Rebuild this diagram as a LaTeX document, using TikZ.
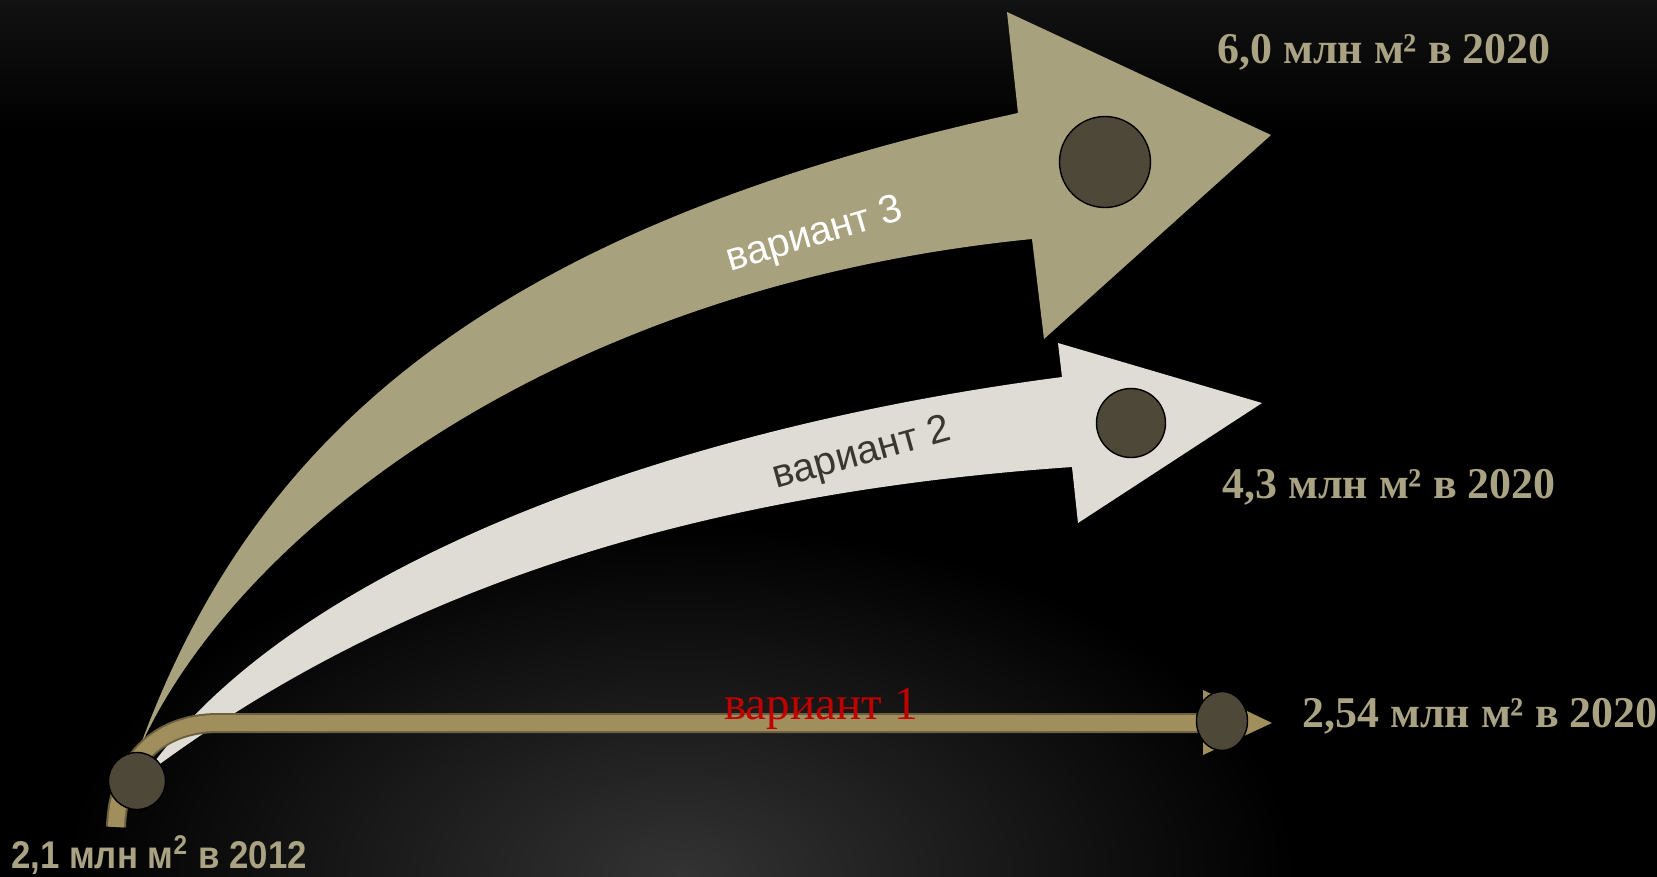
\documentclass[tikz,border=0pt]{standalone}
\usepackage{fontspec}
\setmainfont{Liberation Serif}
\setsansfont{Liberation Sans}
\usetikzlibrary{shapes.geometric}

\definecolor{khaki}{HTML}{A8A17E}
\definecolor{pale}{HTML}{DFDCD5}
\definecolor{dotfill}{HTML}{4E4838}
\definecolor{rope}{HTML}{A08F5C}
\definecolor{ropeedge}{HTML}{6B6040}
\definecolor{labeltxt}{HTML}{A9A283}
\definecolor{darktxt}{HTML}{3A3631}
\definecolor{redtxt}{HTML}{C00000}

\pgfdeclareradialshading{floorglow}{\pgfpoint{0bp}{0bp}}{%
  color(0bp)=(black!80!white); color(11bp)=(black); color(50bp)=(black)}

\tikzset{
  stopdot/.style={circle,draw=black,line width=0.4pt,fill=dotfill,inner sep=0pt},
  result/.style={text=labeltxt,anchor=base,inner sep=0pt,
    font=\fontsize{12.5}{15}\selectfont\bfseries},
  variant/.style={rotate=#1,inner sep=0pt,font=\sffamily\fontsize{11.3}{13}\selectfont},
  ropeline/.style={draw=ropeedge,double=rope,double distance=1.6mm,line width=0.2mm}
}

\begin{document}
\begin{tikzpicture}[x=0.1mm,y=-0.1mm]
    \useasboundingbox (0,0) rectangle (1657,876);
    \fill[black] (-5,-5) rectangle (1662,881);
    \begin{scope}
      \clip (0,0) rectangle (1657,876);
      \shade[shading=floorglow] (680,876) ellipse [x radius=1400,y radius=800];
      \shade[top color=black!93!white,bottom color=black] (0,0) rectangle (1657,130);
    \end{scope}

    \coordinate (tail3) at (138,752);
    \coordinate (tip3) at (1271,135);
    \coordinate (tail2) at (145,775);
    \coordinate (tip2) at (1262,403);
    \coordinate (tail1) at (116,827);
    \coordinate (tip1) at (1272,723);

    % variant 3
    \fill[khaki] (tail3) .. controls (250,442) and (480,230) .. (1018,113)
      -- (1007,12) -- (tip3) -- (1044,339) -- (1032,239)
      .. controls (532,289) and (226,550) .. cycle;

    % variant 2
    \fill[pale] (tail2) .. controls (287,570) and (662,429) .. (1062,377)
      -- (1058,343) -- (tip2) -- (1078,523) -- (1072,467)
      .. controls (652,496) and (365,610) .. cycle;

    % variant 1
    \draw[ropeline] (tail1) .. controls (118,765) and (155,723) .. (218,723) -- (1204,723);
    \fill[rope] (1203,690) -- (tip1) -- (1203,755) -- cycle;

    \node[stopdot,minimum size=5.7mm] (start) at (137,781) {};
    \node[stopdot,minimum size=9.1mm] (end3) at (1105,162) {};
    \node[stopdot,minimum size=6.9mm] (end2) at (1131,423) {};
    \node[stopdot,ellipse,minimum width=5.1mm,minimum height=5.9mm] (end1) at (1222,721) {};

    \node[variant=16.4,text=white] (name3) at (815,236) {вариант 3};
    \node[variant=15.5,text=darktxt] (name2) at (862,455) {вариант 2};
    \node[text=redtxt,anchor=base,inner sep=0pt,font=\fontsize{13.4}{16}\selectfont] (name1) at (821,719) {вариант 1};

    \node[result] (label3) at (1384,63) {6,0 млн м² в 2020};
    \node[result] (label2) at (1389,498) {4,3 млн м² в 2020};
    \node[result] (label1) at (1480,727) {2,54 млн м² в 2020};
    \node[text=labeltxt,anchor=base,inner sep=0pt,font=\sffamily\bfseries\fontsize{11}{13}\selectfont]
      (label0) at (159,868) {\scalebox{0.9}[1]{2,1 млн м\textsuperscript{2} в 2012}};
\end{tikzpicture}
\end{document}
